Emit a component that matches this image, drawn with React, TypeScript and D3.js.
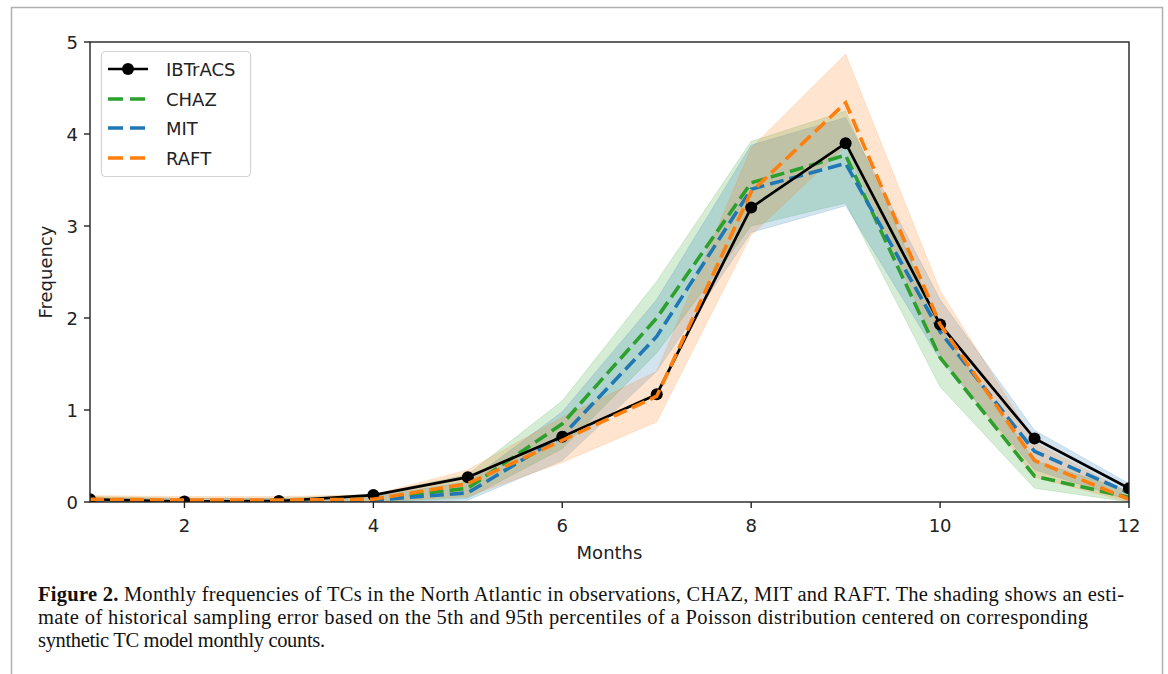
import React from "react";
import * as d3 from "d3";

const months = [1, 2, 3, 4, 5, 6, 7, 8, 9, 10, 11, 12];
const xTicks = [2, 4, 6, 8, 10, 12];
const yTicks = [0, 1, 2, 3, 4, 5];

const ibtracs = [0.03, 0.005, 0.01, 0.075, 0.27, 0.71, 1.17, 3.2, 3.9, 1.93, 0.69, 0.15];

const chaz = [0.02, 0.01, 0.01, 0.03, 0.15, 0.85, 2.0, 3.47, 3.77, 1.57, 0.28, 0.05];
const chazLow = [0, 0, 0, 0, 0.04, 0.58, 1.62, 3.0, 3.25, 1.25, 0.15, 0];
const chazHigh = [0.06, 0.04, 0.04, 0.08, 0.3, 1.1, 2.4, 3.92, 4.25, 1.9, 0.45, 0.12];

const mit = [0.01, 0.01, 0.01, 0.02, 0.1, 0.72, 1.8, 3.4, 3.68, 1.85, 0.55, 0.1];
const mitLow = [0, 0, 0, 0, 0.02, 0.45, 1.42, 2.93, 3.22, 1.55, 0.35, 0.02];
const mitHigh = [0.04, 0.04, 0.04, 0.06, 0.22, 0.98, 2.2, 3.88, 4.18, 2.2, 0.78, 0.2];

const raft = [0.03, 0.02, 0.02, 0.03, 0.2, 0.67, 1.15, 3.37, 4.34, 1.93, 0.45, 0.03];
const raftLow = [0, 0, 0, 0, 0.06, 0.43, 0.87, 2.9, 3.87, 1.6, 0.27, 0];
const raftHigh = [0.07, 0.06, 0.06, 0.08, 0.35, 0.92, 1.42, 3.85, 4.87, 2.3, 0.65, 0.1];

const captionLines = [
  { bold: "Figure 2.", rest: " Monthly frequencies of TCs in the North Atlantic in observations, CHAZ, MIT and RAFT. The shading shows an esti-" },
  { bold: "", rest: "mate of historical sampling error based on the 5th and 95th percentiles of a Poisson distribution centered on corresponding" },
  { bold: "", rest: "synthetic TC model monthly counts." },
];

const models = [
  { name: "CHAZ", color: "#2ca02c", mid: chaz, low: chazLow, high: chazHigh },
  { name: "MIT", color: "#1f77b4", mid: mit, low: mitLow, high: mitHigh },
  { name: "RAFT", color: "#ff7f0e", mid: raft, low: raftLow, high: raftHigh },
];

export default function App() {
  const W = 1168, H = 674;
  const L = 90, R = 1129, T = 42, B = 502;
  const x = d3.scaleLinear().domain([1, 12]).range([L, R]);
  const y = d3.scaleLinear().domain([0, 5]).range([B, T]);
  const line = d3.line<number>().x((_, i) => x(months[i])).y((d) => y(d));
  const area = (lo: number[], hi: number[]) =>
    d3.area<number>().x((_, i) => x(months[i])).y0((_, i) => y(lo[i])).y1((d) => y(d))(hi) || "";
  const font = "DejaVu Sans, sans-serif";
  const dash = "14,6";
  const legendY = [69, 99, 128, 158];
  const legendItems = [
    { name: "IBTrACS", color: "#000", dashed: false },
    ...models.map((m) => ({ name: m.name, color: m.color, dashed: true })),
  ];
  const capWidths = [1086, 1050, 287];
  const capY = [601, 624, 647];
  const [mChaz, mMit, mRaft] = models;

  const dashed = (m: typeof mChaz) => (
    <path d={line(m.mid) || ""} fill="none" stroke={m.color} strokeWidth={3.6} strokeDasharray={dash} />
  );

  return (
    <svg width={W} height={H} style={{ position: "absolute", left: 0, top: 0 }}>
      <rect x={0} y={0} width={W} height={H} fill="#fff" />
      <rect x={11.5} y={7.5} width={1151} height={H + 10} fill="none" stroke="#b0b0b0" strokeWidth={1.5} />
      <defs>
        <clipPath id="plotclip">
          <rect x={L} y={T} width={R - L} height={B - T} />
        </clipPath>
      </defs>
      <g clipPath="url(#plotclip)">
        {models.map((m) => (
          <path key={m.name} d={area(m.low, m.high)} fill={m.color} fillOpacity={0.2} stroke={m.color} strokeOpacity={0.15} />
        ))}
        {dashed(mChaz)}
        {dashed(mMit)}
        <path d={line(ibtracs) || ""} fill="none" stroke="#000" strokeWidth={2.7} />
        {ibtracs.map((v, i) => (
          <circle key={i} cx={x(months[i])} cy={y(v)} r={6} fill="#000" />
        ))}
        {dashed(mRaft)}
      </g>
      <rect x={L} y={T} width={R - L} height={B - T} fill="none" stroke="#222" strokeWidth={1.4} />
      {xTicks.map((t) => (
        <g key={t}>
          <line x1={x(t)} x2={x(t)} y1={B} y2={B + 6} stroke="#222" strokeWidth={1.4} />
          <text x={x(t)} y={B + 30} textAnchor="middle" fontFamily={font} fontSize={18} fill="#222">{t}</text>
        </g>
      ))}
      {yTicks.map((t) => (
        <g key={t}>
          <line x1={L - 6} x2={L} y1={y(t)} y2={y(t)} stroke="#222" strokeWidth={1.4} />
          <text x={L - 12} y={y(t) + 6.5} textAnchor="end" fontFamily={font} fontSize={18} fill="#222">{t}</text>
        </g>
      ))}
      <text x={(L + R) / 2} y={559} textAnchor="middle" fontFamily={font} fontSize={18} fill="#222">Months</text>
      <text transform={`translate(52, ${(T + B) / 2}) rotate(-90)`} textAnchor="middle" fontFamily={font} fontSize={18} fill="#222">Frequency</text>
      <rect x={101.5} y={51.5} width={149} height={125} rx={4} fill="#fff" fillOpacity={0.8} stroke="#d4d4d4" strokeWidth={1.2} />
      {legendItems.map((it, i) => (
        <g key={it.name}>
          <line x1={108} x2={148} y1={legendY[i]} y2={legendY[i]} stroke={it.color} strokeWidth={it.dashed ? 3.6 : 2.7} strokeDasharray={it.dashed ? "15,7" : undefined} />
          {!it.dashed && <circle cx={128} cy={legendY[i]} r={6} fill="#000" />}
          <text x={166} y={legendY[i] + 6.5} fontFamily={font} fontSize={18} fill="#222">{it.name}</text>
        </g>
      ))}
      {captionLines.map((c, i) => (
        <text key={i} x={38} y={capY[i]} fontFamily="Liberation Serif, serif" fontSize={20.5} fill="#111" textLength={capWidths[i]} lengthAdjust="spacing">
          {c.bold && <tspan fontWeight="bold">{c.bold}</tspan>}
          {c.rest}
        </text>
      ))}
    </svg>
  );
}
